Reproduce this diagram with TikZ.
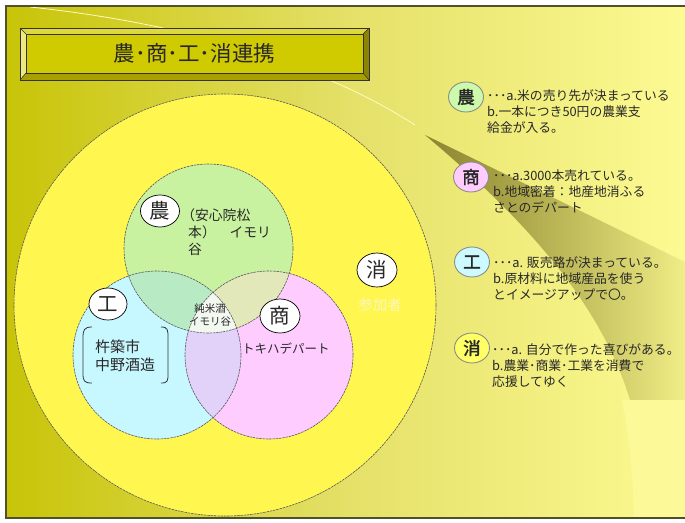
\documentclass[tikz,border=0pt]{standalone}
\usepackage{fontspec}
\setmainfont{Noto Sans CJK JP}
\newfontfamily\cjkbold[FakeBold=2]{Noto Sans CJK JP}
\usetikzlibrary{shapes.geometric,fadings}
\tikzfading[name=wfade, left color=transparent!0, right color=transparent!90]
\definecolor{bgL}{RGB}{200,196,8}
\definecolor{bgM}{RGB}{228,224,104}
\definecolor{bgR}{RGB}{252,250,146}
\definecolor{bgLight}{RGB}{251,249,152}
\definecolor{wedgec}{RGB}{140,134,50}
\definecolor{frame}{RGB}{80,80,45}
\definecolor{bigY}{RGB}{255,246,80}
\definecolor{vg}{RGB}{200,242,160}
\definecolor{vc}{RGB}{200,248,255}
\definecolor{vp}{RGB}{255,204,255}
\definecolor{vgc}{RGB}{184,234,196}
\definecolor{vgp}{RGB}{226,232,186}
\definecolor{vcp}{RGB}{226,210,250}
\definecolor{vall}{RGB}{242,248,240}
\definecolor{txt}{RGB}{40,40,40}
\definecolor{face}{RGB}{208,202,0}
\definecolor{bevT}{RGB}{222,216,60}
\definecolor{bevL}{RGB}{238,232,130}
\definecolor{bevB}{RGB}{168,160,0}
\definecolor{bevR}{RGB}{138,132,0}
\definecolor{legG}{RGB}{204,250,170}
\definecolor{legP}{RGB}{255,204,255}
\definecolor{legC}{RGB}{204,250,255}
\definecolor{legY}{RGB}{255,255,102}
\definecolor{sanka}{RGB}{252,248,185}
\begin{document}
\begin{tikzpicture}[x=1pt,y=-1pt,
  every node/.style={text=txt},
  lbl/.style={ellipse, draw=black, line width=0.7pt, fill=white, minimum width=40pt, minimum height=34pt, inner sep=0pt, font=\fontsize{20.5}{20.5}\selectfont},
  legc/.style={ellipse, draw=black!45, line width=0.9pt, minimum width=35pt, minimum height=30pt, inner sep=0pt, font=\cjkbold\fontsize{17.5}{17.5}\selectfont},
  legt/.style={anchor=north west, align=left, inner sep=0pt, font=\fontsize{12.8}{16}\selectfont},
  vline/.style={draw=black!65, line width=0.6pt, dash pattern=on 2.5pt off 0.8pt},
  brk/.style={draw=black!80, line width=0.8pt}]

\useasboundingbox (0,0) rectangle (685,522);
\fill[white] (0,0) rectangle (685,522);
% slide background
\shade[left color=bgL, right color=bgR, middle color=bgM] (6,6) rectangle (685,518);
\fill[bgLight] (622,400) .. controls (630,440) and (633,480) .. (634,518) -- (685,518) -- (685,400) -- cycle;
\fill[wedgec, path fading=wfade] (425,135) -- (685,262) -- (685,400) -- (630,400)
   .. controls (600,300) and (520,215) .. (425,135) -- cycle;
\draw[white!45!bgR, line width=0.8pt] (30,7) .. controls (200,25) and (330,70) .. (415,125);
\draw[frame, line width=1.3pt] (685,6) -- (6,6) -- (6,518) -- (685,518);

% title box
\fill[face] (20,28) rectangle (369,80);
\fill[bevT] (20,28) -- (369,28) -- (363,34) -- (26,34) -- cycle;
\fill[bevL] (20,28) -- (26,34) -- (26,73) -- (20,80) -- cycle;
\fill[bevB] (20,80) -- (26,73) -- (363,73) -- (369,80) -- cycle;
\fill[bevR] (369,28) -- (363,34) -- (363,73) -- (369,80) -- cycle;
\draw[black!80, line width=0.7pt] (20,28) rectangle (369,80);
\draw[black!80, line width=0.5pt] (26,34) rectangle (363,73);
\draw[black!80, line width=0.5pt] (20,28) -- (26,34) (369,28) -- (363,34) (20,80) -- (26,73) (369,80) -- (363,73);
\node[font=\fontsize{21.5}{21.5}\selectfont] (title) at (194.5,53.5) {農･商･工･消連携};

% Venn diagram
\def\cG{(208.5,248.5) circle (84.5pt)}
\def\cC{(157,355) circle (84pt)}
\def\cP{(269,355) circle (84pt)}
\fill[bigY] (225,305) circle (211pt);
\draw[vline] (225,305) circle (211pt);
\fill[vg] \cG;
\fill[vc] \cC;
\fill[vp] \cP;
\begin{scope}\clip \cG; \fill[vgc] \cC; \end{scope}
\begin{scope}\clip \cG; \fill[vgp] \cP; \end{scope}
\begin{scope}\clip \cC; \fill[vcp] \cP; \end{scope}
\begin{scope}\clip \cG; \clip \cC; \fill[vall] \cP; \end{scope}
\draw[vline] \cG;
\draw[vline] \cC;
\draw[vline] \cP;

\node[lbl, minimum width=39pt, minimum height=32pt] (lN) at (160,211) {農};
\node[lbl, minimum width=38pt, minimum height=32pt] (lK) at (108,304) {工};
\node[lbl] (lS) at (280,316) {商};
\node[lbl] (lC) at (377,270) {消};

\node[anchor=north west, align=left, inner sep=0pt, font=\fontsize{13.8}{17}\selectfont] (gtx) at (188,208) {\kern-.5em（安心院松\\本）　イモリ\\谷};
\node[anchor=north west, align=left, inner sep=0pt, font=\fontsize{15}{18}\selectfont] (ktx) at (95,339.5) {杵築市\\中野酒造};
\draw[brk] (92,327) .. controls (84,327) and (83,330) .. (83,338) -- (83,373) .. controls (83,381) and (84,383) .. (92,383);
\draw[brk] (161,327) .. controls (168,327) and (168,330) .. (168,338) -- (168,373) .. controls (168,381) and (168,383) .. (161,383);
\node[anchor=west, inner sep=0pt, font=\fontsize{12.5}{12.5}\selectfont] (stx) at (242,349) {トキハデパート};
\node[align=center, inner sep=0pt, font=\fontsize{10.5}{13}\selectfont] (ctx) at (210,315.5) {純米酒\\イモリ谷};
\node[font=\fontsize{14.5}{14.5}\selectfont, text=sanka] (sanka) at (380,305) {参加者};

% legend
\node[legc, fill=legG] (g1) at (466,97) {農};
\node[legt] (t1) at (487,89) {･･･a.米の売り先が決まっている\\b.一本につき50円の農業支\\給金が入る。};
\node[legc, fill=legP] (g2) at (471,177) {商};
\node[legt] (t2) at (493,170) {･･･a.3000本売れている。\\b.地域密着：地産地消ふる\\さとのデパート};
\node[legc, fill=legC] (g3) at (472,262) {工};
\node[legt] (t3) at (493,256) {･･･a. 販売路が決まっている。\\b.原材料に地域産品を使う\\とイメージアップで〇。};
\node[legc, fill=legY] (g4) at (472,348) {消};
\node[legt] (t4) at (492,343) {･･･a. 自分で作った喜びがある。\\b.農業･商業･工業を消費で\\応援してゆく};
\end{tikzpicture}
\end{document}
